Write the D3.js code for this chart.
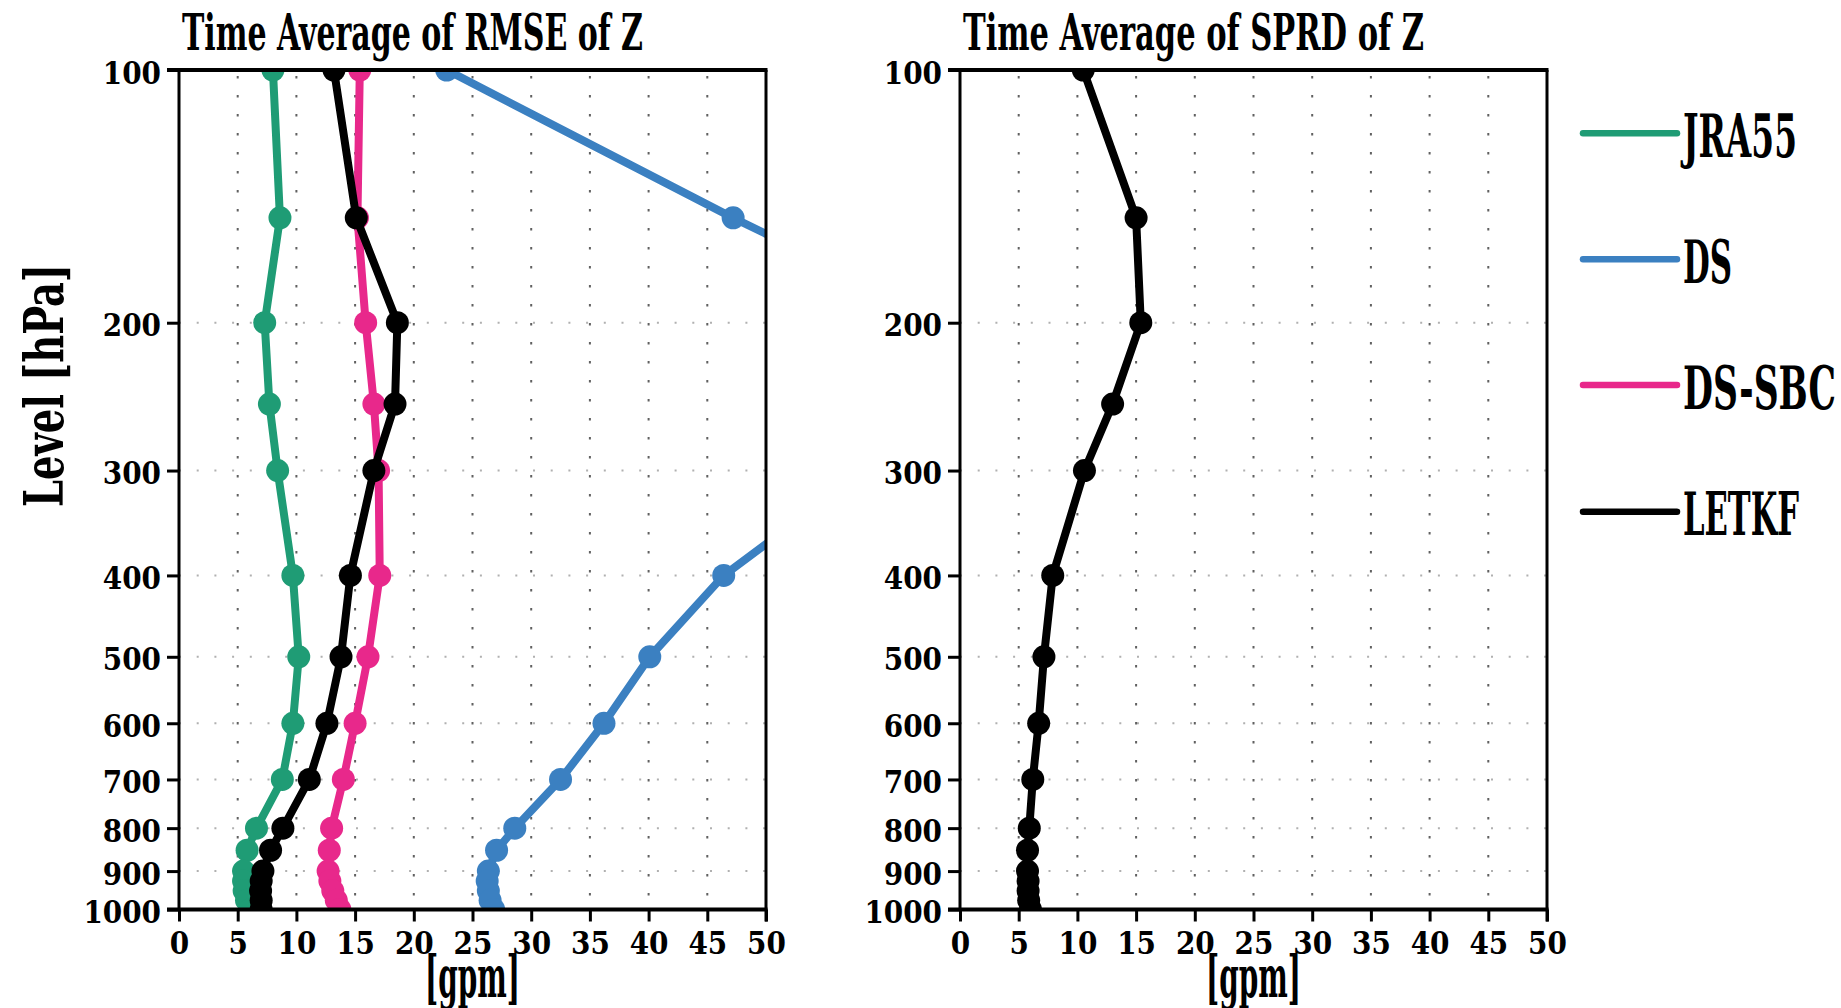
<!DOCTYPE html>
<html>
<head>
<meta charset="utf-8">
<script src="https://cdn.jsdelivr.net/npm/d3@7"></script>
<style>
  body { margin: 0; background: #fff; }
  text { font-family: "DejaVu Serif Condensed", "DejaVu Serif", serif; font-weight: bold; fill: #000; }
</style>
</head>
<body>
<div class="chart"></div>
<script>
// pressure levels (hPa)
var levels = [100, 150, 200, 250, 300, 400, 500, 600, 700, 800, 850, 900, 925, 950, 975, 1000];

// RMSE of Z [gpm]
var jra55 = [8.0, 8.6, 7.3, 7.7, 8.4, 9.7, 10.2, 9.7, 8.8, 6.6, 5.8, 5.5, 5.5, 5.55, 5.75, 6.1];
var ds = [22.8, 47.2, 65.5, 62.0, 58.4, 46.4, 40.1, 36.2, 32.5, 28.6, 27.05, 26.35, 26.25, 26.35, 26.5, 26.8];
var dsSbc = [15.4, 15.2, 15.9, 16.6, 17.0, 17.1, 16.1, 15.0, 14.0, 13.0, 12.8, 12.7, 12.85, 13.1, 13.4, 13.7];
var letkf = [13.2, 15.1, 18.6, 18.4, 16.6, 14.6, 13.8, 12.6, 11.1, 8.85, 7.8, 7.15, 7.0, 6.95, 7.0, 7.0];

// SPRD of Z [gpm]
var letkfSprd = [10.5, 15.0, 15.4, 13.0, 10.6, 7.9, 7.15, 6.7, 6.2, 5.9, 5.75, 5.75, 5.8, 5.8, 5.85, 6.0];

var seriesNames = ["JRA55", "DS", "DS-SBC", "LETKF"];
var seriesColors = ["#1f9c75", "#3b80c1", "#e8288b", "#000000"];

var xTicks = [0, 5, 10, 15, 20, 25, 30, 35, 40, 45, 50];
var yTicks = [100, 200, 300, 400, 500, 600, 700, 800, 900, 1000];

var svgWidth = 1841;
var svgHeight = 1008;

var svg = d3.select(".chart")
  .append("svg")
  .attr("width", svgWidth)
  .attr("height", svgHeight);

var plotTop = 70, plotBottom = 909.5;

var yScale = d3.scaleLog()
  .domain([100, 1000])
  .range([plotTop, plotBottom]);

function drawPanel(id, x0, x1, title, series) {
  var xScale = d3.scaleLinear().domain([0, 50]).range([x0, x1]);
  var g = svg.append("g");

  g.append("clipPath").attr("id", id)
    .append("rect")
    .attr("x", x0).attr("y", plotTop)
    .attr("width", x1 - x0).attr("height", plotBottom - plotTop);

  // grid
  g.selectAll(".hgrid").data(yTicks.slice(1, -1)).enter()
    .append("line")
    .attr("x1", x0).attr("x2", x1)
    .attr("y1", d => yScale(d)).attr("y2", d => yScale(d))
    .attr("stroke", "#b0b0b0").attr("stroke-width", 2)
    .attr("stroke-dasharray", "2 15.7");

  g.selectAll(".vgrid").data(xTicks.slice(1, -1)).enter()
    .append("line")
    .attr("x1", d => xScale(d)).attr("x2", d => xScale(d))
    .attr("y1", plotTop + 6).attr("y2", plotBottom)
    .attr("stroke", "#606060").attr("stroke-width", 2)
    .attr("stroke-dasharray", "2.5 16.5");

  // axes
  var leftAxis = d3.axisLeft(yScale).tickValues(yTicks).tickFormat(d3.format("d"))
    .tickSize(12).tickSizeOuter(0).tickPadding(6);
  var bottomAxis = d3.axisBottom(xScale).tickValues(xTicks)
    .tickSize(12).tickSizeOuter(0).tickPadding(10);

  var ya = g.append("g").attr("transform", `translate(${x0},0)`).call(leftAxis);
  var xa = g.append("g").attr("transform", `translate(0,${plotBottom})`).call(bottomAxis);
  [ya, xa].forEach(function(a) {
    a.select(".domain").remove();
    a.selectAll("line").attr("stroke", "#000").attr("stroke-width", 3);
    a.selectAll("text").attr("font-size", 31).attr("fill", "#000")
      .style("font-family", '"DejaVu Serif Condensed", "DejaVu Serif", serif').style("font-weight", "bold");
  });
  ya.selectAll("text").attr("dy", "0.42em");

  // series
  var line = d3.line()
    .x(d => xScale(d.v))
    .y(d => yScale(d.p));

  var plot = g.append("g").attr("clip-path", `url(#${id})`);
  series.forEach(function(s) {
    var pts = levels.map((p, i) => ({ p: p, v: s.values[i] }));
    plot.append("path")
      .datum(pts)
      .attr("d", line)
      .attr("fill", "none")
      .attr("stroke", s.color)
      .attr("stroke-width", 8)
      .attr("stroke-linejoin", "round");
    plot.selectAll(null).data(pts).enter()
      .append("circle")
      .attr("cx", d => xScale(d.v))
      .attr("cy", d => yScale(d.p))
      .attr("r", 11.5)
      .attr("fill", s.color);
  });

  // frame
  g.append("line").attr("x1", x0).attr("x2", x0).attr("y1", plotTop).attr("y2", plotBottom)
    .attr("stroke", "#000").attr("stroke-width", 3);
  g.append("line").attr("x1", x1).attr("x2", x1).attr("y1", plotTop).attr("y2", plotBottom + 12)
    .attr("stroke", "#000").attr("stroke-width", 3);
  g.append("line").attr("x1", x0 - 12).attr("x2", x1 + 1.5).attr("y1", plotTop).attr("y2", plotTop)
    .attr("stroke", "#000").attr("stroke-width", 4);
  g.append("line").attr("x1", x0 - 12).attr("x2", x1 + 1.5).attr("y1", plotBottom).attr("y2", plotBottom)
    .attr("stroke", "#000").attr("stroke-width", 4);

  // title
  g.append("text")
    .attr("x", x0 + 3)
    .attr("y", 50)
    .attr("font-size", 50)
    .attr("textLength", 461)
    .attr("lengthAdjust", "spacingAndGlyphs")
    .text(title);

  // x label
  g.append("text")
    .attr("x", (x0 + x1) / 2 - 47.5)
    .attr("y", 997)
    .attr("font-size", 57)
    .attr("textLength", 95)
    .attr("lengthAdjust", "spacingAndGlyphs")
    .text("[gpm]");
}

drawPanel("clipL", 179, 766, "Time Average of RMSE of Z", [
  { values: jra55, color: seriesColors[0] },
  { values: ds, color: seriesColors[1] },
  { values: dsSbc, color: seriesColors[2] },
  { values: letkf, color: seriesColors[3] }
]);

drawPanel("clipR", 960, 1547, "Time Average of SPRD of Z", [
  { values: letkfSprd, color: seriesColors[3] }
]);

// y axis label
svg.append("text")
  .attr("transform", "translate(63,507) rotate(-90)")
  .attr("font-size", 55)
  .attr("textLength", 243)
  .attr("lengthAdjust", "spacingAndGlyphs")
  .text("Level [hPa]");

// legend
var legendY = [133.3, 259.3, 385, 511.7];
var legendLen = [114, 49, 153, 116];
var legend = svg.append("g");
seriesNames.forEach(function(name, i) {
  legend.append("line")
    .attr("x1", 1583).attr("x2", 1677)
    .attr("y1", legendY[i]).attr("y2", legendY[i])
    .attr("stroke", seriesColors[i])
    .attr("stroke-width", 6.5)
    .attr("stroke-linecap", "round");
  legend.append("text")
    .attr("x", 1683)
    .attr("y", legendY[i] + 23.5)
    .attr("font-size", 59)
    .attr("textLength", legendLen[i])
    .attr("lengthAdjust", "spacingAndGlyphs")
    .text(name);
});
</script>
</body>
</html>
